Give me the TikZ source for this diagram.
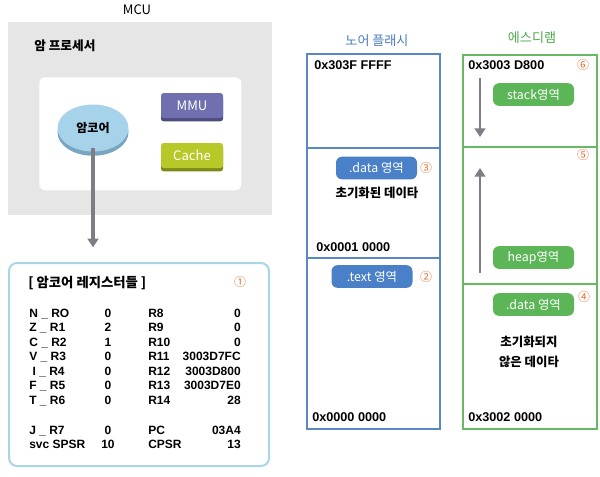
\documentclass[tikz,border=0pt]{standalone}
\usepackage{fontspec}
\setmainfont{Noto Sans CJK KR}
\newfontfamily\arialfont{Liberation Sans}
\usetikzlibrary{positioning,arrows.meta,shapes.geometric,shadows}
\definecolor{panelgray}{RGB}{230,230,230}
\definecolor{corefill}{RGB}{166,211,234}
\definecolor{coreedge}{RGB}{120,166,194}
\definecolor{mmufill}{RGB}{112,112,176}
\definecolor{mmuedge}{RGB}{76,76,126}
\definecolor{cachefill}{RGB}{184,200,40}
\definecolor{cacheedge}{RGB}{124,138,24}
\definecolor{regblue}{RGB}{168,214,230}
\definecolor{norblue}{RGB}{91,135,196}
\definecolor{nortitle}{RGB}{74,126,190}
\definecolor{norpill}{RGB}{74,128,200}
\definecolor{ramgreen}{RGB}{104,184,100}
\definecolor{ramtitle}{RGB}{79,168,76}
\definecolor{rampill}{RGB}{92,182,88}
\definecolor{numorange}{RGB}{230,110,50}
\definecolor{arrgray}{RGB}{125,125,130}

\begin{document}
\begin{tikzpicture}[
  x=0.75pt, y=-0.75pt,
  font=\fontsize{9}{11}\selectfont,
  panel/.style={anchor=north west, inner sep=0pt},
  chip/.style={rounded corners=2pt, text=white, minimum width=46.5pt, minimum height=18.75pt, inner sep=0pt, font=\fontsize{9.8}{11}\selectfont},
  pill/.style={rounded corners=4.5pt, text=white, minimum width=60.75pt, minimum height=17pt, inner sep=0pt, font=\fontsize{9.3}{11}\selectfont},
  addr/.style={anchor=west, inner sep=0pt, font=\arialfont\bfseries\fontsize{9.5}{11}\selectfont},
  reg/.style={inner sep=0pt, font=\arialfont\bfseries\fontsize{9}{10.875}\selectfont},
  num/.style={text=numorange, inner sep=0pt, font=\fontsize{9}{11}\selectfont},
  note/.style={inner sep=0pt, align=center, font=\bfseries\fontsize{9.3}{15}\selectfont},
  title/.style={inner sep=0pt, font=\fontsize{9.8}{11}\selectfont},
  norblk/.style={panel, draw=norblue, line width=1.5pt, minimum width=99.75pt},
  ramblk/.style={panel, draw=ramgreen, line width=1.5pt, minimum width=100.5pt},
  garr/.style={draw=arrgray, -{Triangle[width=8pt,length=6.5pt]}}
]
\useasboundingbox (0,0) rectangle (600,476);
\node[title] (mcu) at (137,10) {MCU};
\node[panel, fill=panelgray, minimum width=198pt, minimum height=144.75pt] (proc) at (8,22) {};
\node[anchor=west, inner sep=0pt, font=\bfseries\fontsize{9.5}{11}\selectfont] (proctitle) at (34,46) {암 프로세서};
\node[panel, fill=white, rounded corners=4.5pt, minimum width=151.5pt, minimum height=84.75pt] (inner) at (39,77) {};
\node[ellipse, fill=corefill, minimum width=53.25pt, minimum height=35.25pt, inner sep=0pt,
  general shadow={shadow yshift=-3.2pt, fill=coreedge}, font=\bfseries\fontsize{9}{11}\selectfont] (core) at (93,128) {암코어};
\node[chip, fill=mmufill, general shadow={shadow yshift=-2.5pt, fill=mmuedge}] (mmu) at (192,105.5) {MMU};
\node[chip, fill=cachefill, general shadow={shadow yshift=-2.5pt, fill=cacheedge}] (cache) at (192,155.5) {Cache};

\node[panel, draw=regblue, line width=1.5pt, rounded corners=6pt, minimum width=195pt, minimum height=152.25pt] (regs) at (8,262) {};
\draw[garr, line width=2.6pt, shorten <=-2.6pt, shorten >=11pt] (core.south) -- (core.south |- regs.north);
\node[anchor=west, inner sep=0pt, font=\bfseries\fontsize{10}{12}\selectfont] (regtitle) at (28,283) {[ 암코어 레지스터들 ]};
\node[num] (n1) at (240,282) {①};
\node[reg, anchor=north west, align=left] (regname) at (29,308.7)
  {N \_ RO\\Z \_ R1\\C \_ R2\\V \_ R3\\\ I \_ R4\\F \_ R5\\T \_ R6\\[11.6pt]J \_ R7\\svc SPSR};
\node[reg, anchor=north, align=center] (regval) at (108,308.7)
  {0\\2\\1\\0\\0\\0\\0\\[11.6pt]0\\10};
\node[reg, anchor=north west, align=left] (regname2) at (148,308.7)
  {R8\\R9\\R10\\R11\\R12\\R13\\R14\\[11.6pt]PC\\CPSR};
\node[reg, anchor=north east, align=right] (regval2) at (241,308.7)
  {0\\0\\0\\3003D7FC\\3003D800\\3003D7E0\\28\\[11.6pt]03A4\\13};

\node[title, text=nortitle] (nortitle) at (377,41) {노어 플래시};
\node[norblk, minimum height=70.5pt] (nor1) at (306,53) {};
\node[norblk, minimum height=82.5pt] (nor2) at (306,147) {};
\node[norblk, minimum height=128.25pt] (nor3) at (306,257) {};
\node[addr] (nortop) at (314,65) {0x303F FFFF};
\node[pill, fill=norpill] (nordata) at (376.5,168) {.data 영역};
\node[num] (n3) at (426,168) {③};
\node[note] (norinit) at (377,193) {초기화된 데이타};
\node[addr] (normid) at (316,247) {0x0001 0000};
\node[pill, fill=norpill] (nortext) at (372,276.5) {.text 영역};
\node[num] (n2) at (426,277) {②};
\node[addr] (norbot) at (312,417) {0x0000 0000};

\node[title, text=ramtitle] (ramtitle) at (532,38) {에스디램};
\node[ramblk, minimum height=69pt] (ram1) at (462,54) {};
\node[ramblk, minimum height=102.75pt] (ram2) at (462,146) {};
\node[ramblk, minimum height=108.75pt] (ram3) at (462,283) {};
\node[addr] (ramtop) at (468,65) {0x3003 D800};
\node[num] (n6) at (583,65) {⑥};
\node[pill, fill=rampill] (stack) at (533.5,94.5) {stack영역};
\node[num] (n5) at (583,155) {⑤};
\node[pill, fill=rampill] (heap) at (533.5,257.5) {heap영역};
\node[pill, fill=rampill] (ramdata) at (533.5,304.5) {.data 영역};
\node[num] (n4) at (584,297) {④};
\node[note] (raminit) at (529,352) {초기화되지\\않은 데이타};
\node[addr] (rambot) at (468,417) {0x3002 0000};
\coordinate (stacktop) at (480,78);
\coordinate (stackend) at (480,137);
\coordinate (heapbot) at (480,273);
\coordinate (heapend) at (480,168);
\draw[garr, line width=2.2pt] (stacktop) -- (stackend);
\draw[garr, line width=2.2pt] (heapbot) -- (heapend);
\end{tikzpicture}
\end{document}
